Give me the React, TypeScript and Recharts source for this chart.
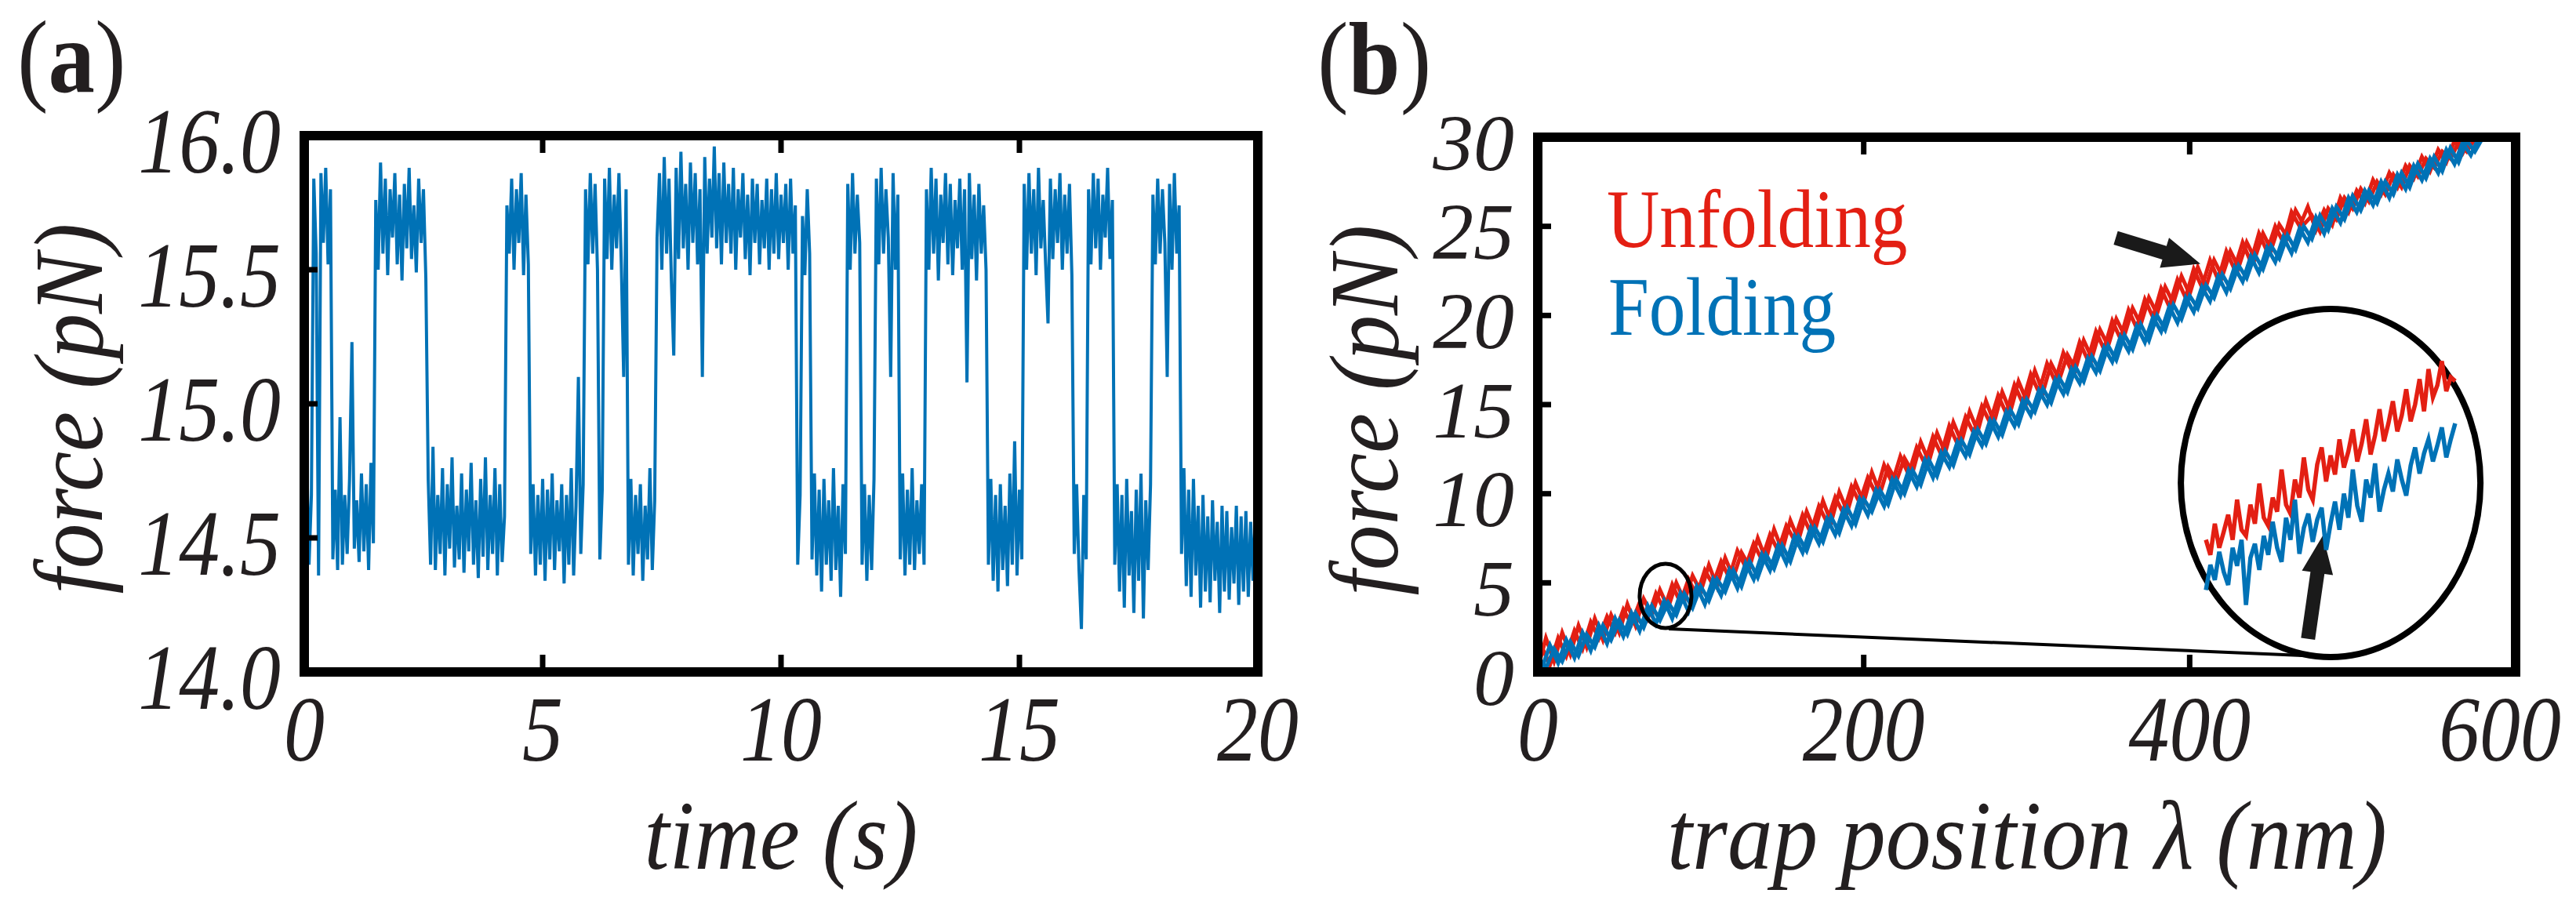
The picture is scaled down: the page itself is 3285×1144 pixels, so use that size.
import React from "react";
import { LineChart, Line, XAxis, YAxis, ReferenceDot, ReferenceLine } from "recharts";

// (a) force trace, sampled every 0.05 s from 0 to 20 s (one line per dwell)
const SAMPLE_INTERVAL_S = 0.05;
const forceTrace = [
  14.44, 14.82, 14.40, 14.66,
  15.84, 15.56,
  14.36,
  15.86, 15.60, 15.88, 15.52, 15.80,
  14.42, 14.68, 14.38, 14.95, 14.40, 14.66, 14.44, 14.72, 15.23, 14.46, 14.64, 14.41, 14.74, 14.45, 14.70, 14.38, 14.78, 14.48,
  15.76, 15.50, 15.90, 15.56, 15.84, 15.48, 15.80, 15.62, 15.86, 15.52, 15.78, 15.46, 15.82, 15.58, 15.88, 15.54, 15.74, 15.49, 15.84, 15.60, 15.80, 15.47,
  14.72, 14.40, 14.84, 14.38, 14.66, 14.44, 14.76, 14.36, 14.70, 14.46, 14.80, 14.39, 14.62, 14.42, 14.74, 14.37, 14.68, 14.45, 14.78, 14.40, 14.64, 14.35, 14.72, 14.43, 14.80, 14.38, 14.66, 14.44, 14.76, 14.36, 14.70, 14.41, 14.58,
  15.74, 15.56, 15.84, 15.50, 15.80, 15.60, 15.86, 15.48, 15.78, 15.52,
  14.44, 14.70, 14.36, 14.66, 14.40, 14.72, 14.34, 14.68, 14.42, 14.74, 14.38, 14.64, 14.45, 14.70, 14.33, 14.66, 14.40, 14.76, 14.36, 14.62, 15.10, 14.44, 14.70,
  15.80, 15.52, 15.86, 15.56, 15.82, 15.50,
  14.42, 14.68,
  15.84, 15.54, 15.88, 15.50, 15.78, 15.58, 15.86, 15.52, 15.10, 15.80,
  14.40, 14.72, 14.36, 14.66, 14.44, 14.70, 14.34, 14.62, 14.42, 14.76, 14.38, 14.64,
  15.62, 15.86, 15.50, 15.92, 15.56, 15.84, 15.46, 15.18, 15.88, 15.54, 15.94, 15.58, 15.82, 15.50, 15.90, 15.60, 15.86, 15.52, 15.80, 15.10,
  15.92, 15.56, 15.84, 15.62, 15.96, 15.58, 15.86, 15.52, 15.90, 15.60, 15.82, 15.56, 15.88, 15.50, 15.80, 15.62, 15.86, 15.54, 15.78, 15.48,
  15.84, 15.60, 15.82, 15.52, 15.76, 15.58, 15.84, 15.50, 15.80, 15.56, 15.86, 15.54, 15.78, 15.60, 15.82, 15.50, 15.84, 15.56, 15.74,
  14.40, 14.66,
  15.70, 15.48, 15.80, 15.56,
  14.42, 14.74, 14.36, 14.68, 14.30, 14.72, 14.40, 14.64, 14.34, 14.76, 14.38, 14.62, 14.28, 14.70, 14.44,
  15.82, 15.50, 15.86, 15.56, 15.78, 15.60,
  14.40, 14.70, 14.34, 14.66, 14.38, 14.72,
  15.84, 15.52, 15.88, 15.56, 15.80, 15.62, 15.10, 15.86, 15.50, 15.78,
  14.42, 14.74, 14.36, 14.68, 14.40, 14.76, 14.38, 14.64, 14.44, 14.70, 14.40,
  15.80, 15.50, 15.88, 15.56, 15.84, 15.46, 15.78, 15.60, 15.86, 15.52, 15.82, 15.48, 15.76, 15.58, 15.84, 15.50, 15.80, 15.08, 15.86, 15.54, 15.78, 15.46, 15.82, 15.56, 15.74, 15.50,
  14.40, 14.72, 14.34, 14.66, 14.30, 14.70, 14.38, 14.62, 14.32, 14.74, 14.40, 14.86, 14.36, 14.68, 14.42,
  15.82, 15.50, 15.86, 15.56, 15.80, 15.48, 15.88, 15.58, 15.76, 15.52, 15.30, 15.84, 15.54, 15.80, 15.60, 15.86, 15.50, 15.78, 15.56, 15.82, 15.48,
  14.44, 14.70, 14.38, 14.16, 14.66, 14.42,
  15.80, 15.52, 15.86, 15.58, 15.84, 15.50, 15.78, 15.62, 15.88, 15.54, 15.76,
  14.40, 14.70, 14.30, 14.66, 14.24, 14.72, 14.36, 14.60, 14.22, 14.68, 14.34, 14.74, 14.20, 14.64, 14.38, 14.70,
  15.78, 15.52, 15.84, 15.56, 15.80, 15.60, 15.10, 15.82, 15.50, 15.86, 15.56, 15.74,
  14.44, 14.76, 14.32, 14.68, 14.28, 14.72, 14.36, 14.62, 14.24, 14.66, 14.30, 14.58, 14.26, 14.64, 14.34, 14.56, 14.22,
  14.62, 14.30, 14.60, 14.27, 14.54, 14.33, 14.62, 14.25, 14.58, 14.30, 14.60, 14.28, 14.56, 14.34, 14.60, 14.17,
];

// (b) two pulling cycles each way; cycle 1 every 5 nm from 0 nm, cycle 2 every 5 nm from 2.5 nm
const TRAP_STEP_NM = 5;
const CYCLE2_OFFSET_NM = 2.5;
const unfoldingForce = [
  0.2, 1.9, 0.6, 2.2, 1.0, 2.6, 1.4, 3.0, 1.8, 3.2, 2.2, 3.8, 2.6, 4.1, 3.2, 4.6, 3.6, 5.0, 4.0, 5.4, 4.5,
  6.0, 4.8, 6.4, 5.3, 6.7, 5.9, 7.5, 6.3, 8.0, 6.8, 8.5, 7.4, 9.0, 7.9, 9.6, 8.4, 10.1, 9.0, 10.6, 9.5,
  11.2, 10.0, 11.5, 10.7, 12.0, 11.2, 12.9, 11.8, 13.4, 12.3, 14.0, 12.9, 14.6, 13.5, 15.2, 14.0, 15.7, 14.6, 16.3, 15.2,
  16.9, 15.7, 17.3, 16.4, 17.8, 17.0, 18.6, 17.6, 19.2, 18.3, 19.8, 18.9, 20.4, 19.5, 21.0, 20.1, 21.6, 20.7, 22.2, 21.2,
  22.7, 21.6, 23.1, 22.2, 23.6, 22.7, 24.1, 23.2, 24.6, 23.7, 25.1, 24.4, 25.9, 25.1, 25.6, 24.7, 26.0, 25.4, 26.6, 26.0,
  27.1, 26.4, 27.5, 26.8, 27.9, 27.2, 28.4, 27.8, 28.8, 28.3, 29.2, 28.8, 29.7, 29.2, 29.9, 30.0,
];
const unfoldingForce2 = [
  1.4, 0.4, 1.9, 0.9, 2.3, 1.3, 2.8, 1.9, 3.1, 2.2, 3.5, 2.7, 3.9, 3.0, 4.4, 3.5, 4.9, 3.9, 5.2, 4.3,
  5.7, 4.9, 6.2, 5.3, 6.8, 5.9, 7.2, 6.3, 7.7, 6.8, 8.2, 7.4, 8.8, 7.8, 9.3, 8.4, 9.8, 8.9, 10.4, 9.5,
  10.9, 10.0, 11.6, 10.6, 12.1, 11.1, 12.6, 11.7, 13.2, 12.2, 13.8, 12.8, 14.3, 13.4, 14.9, 14.0, 15.5, 14.5, 16.1, 15.1,
  16.7, 15.7, 17.3, 16.3, 17.9, 16.9, 18.5, 17.5, 19.1, 18.1, 19.7, 18.7, 20.3, 19.3, 20.9, 19.9, 21.5, 20.5, 22.0, 21.0,
  22.6, 21.6, 23.1, 22.0, 23.6, 22.6, 24.1, 23.0, 24.6, 23.6, 25.0, 24.1, 25.8, 25.0, 26.1, 24.8, 25.9, 25.1, 26.6, 25.8,
  27.0, 26.3, 27.6, 26.8, 28.0, 27.2, 28.4, 27.7, 28.9, 28.1, 29.3, 28.6, 29.8, 29.1, 30.0,
];
const foldingForce = [
  0.9, 0.2, 1.3, 0.6, 1.7, 0.9, 2.1, 1.4, 2.6, 1.8, 2.9, 2.1, 3.3, 2.5, 3.7, 2.9, 3.9, 3.2, 4.4, 3.6, 4.8,
  4.0, 5.2, 4.5, 5.7, 4.8, 6.2, 5.3, 6.6, 5.8, 7.1, 6.2, 7.6, 6.8, 8.1, 7.3, 8.7, 7.8, 9.2, 8.3, 9.7,
  9.0, 10.2, 9.4, 10.8, 10.0, 11.3, 10.5, 11.9, 11.0, 12.4, 11.6, 13.0, 12.2, 13.6, 12.8, 14.1, 13.3, 14.7, 13.9, 15.3,
  14.6, 15.9, 15.1, 16.5, 15.7, 17.1, 16.3, 17.7, 16.9, 18.3, 17.5, 18.9, 18.1, 19.5, 18.6, 20.0, 19.2, 20.6, 19.8, 21.1,
  20.4, 21.7, 21.0, 22.3, 21.5, 22.8, 22.1, 23.4, 22.6, 23.9, 23.2, 24.5, 23.7, 25.0, 24.3, 25.6, 24.8, 26.1, 25.4, 26.7,
  25.9, 27.0, 26.3, 27.5, 26.8, 28.0, 27.2, 28.5, 27.7, 28.9, 28.1, 29.4, 28.6, 29.8, 29.2, 30.0,
];
const foldingForce2 = [
  0.2, 1.5, 0.5, 1.8, 0.8, 2.2, 1.2, 2.6, 1.6, 3.0, 2.0, 3.3, 2.3, 3.7, 2.7, 4.0, 3.0, 4.4, 3.4, 4.8,
  3.8, 5.2, 4.3, 5.7, 4.7, 6.1, 5.2, 6.6, 5.7, 7.1, 6.1, 7.6, 6.7, 8.1, 7.2, 8.6, 7.7, 9.1, 8.2, 9.7,
  8.8, 10.2, 9.3, 10.8, 9.9, 11.3, 10.4, 11.9, 10.9, 12.3, 11.5, 12.9, 12.1, 13.5, 12.7, 14.1, 13.2, 14.6, 13.8, 15.2,
  14.4, 15.8, 15.0, 16.4, 15.6, 17.0, 16.2, 17.6, 16.8, 18.2, 17.4, 18.8, 18.0, 19.4, 18.5, 19.9, 19.1, 20.5, 19.6, 21.0,
  20.2, 21.6, 20.8, 22.2, 21.3, 22.7, 21.9, 23.3, 22.4, 23.8, 23.0, 24.4, 23.5, 24.9, 24.1, 25.5, 24.6, 26.0, 25.2, 26.6,
  25.8, 27.0, 26.2, 27.5, 26.6, 27.9, 27.1, 28.4, 27.6, 28.8, 28.0, 29.3, 28.5, 29.7, 29.0, 30.0,
];

// magnified window around ~78 nm, every 0.5 nm from 64 to 92 nm
const INSET_START_NM = 64;
const INSET_STEP_NM = 0.5;
const insetUnfolding = [
  3.70, 3.55, 3.86, 3.62, 3.78, 3.95, 3.70, 4.10, 3.80, 3.74, 4.05, 3.86, 4.26, 3.92, 3.84, 4.12, 3.98, 4.40, 4.05, 3.96,
  4.30, 4.12, 4.52, 4.20, 4.10, 4.45, 4.62, 4.28, 4.54, 4.35, 4.70, 4.42, 4.58, 4.80, 4.48, 4.66, 4.90, 4.55, 4.74, 5.00,
  4.68, 4.86, 5.08, 4.78, 4.94, 5.20, 4.88, 5.05, 5.30, 4.98, 5.40, 5.12, 5.24, 5.48, 5.18, 5.32, 5.28,
];
const insetFolding = [
  3.20, 3.45, 3.30, 3.58, 3.38, 3.25, 3.62, 3.44, 3.70, 3.05, 3.52, 3.66, 3.40, 3.74, 3.55, 3.88, 3.62, 3.48, 3.92, 3.70,
  4.10, 3.56, 3.82, 3.96, 3.68, 3.90, 4.02, 3.60, 3.86, 4.08, 3.80, 4.16, 3.92, 4.40, 4.04, 3.88, 4.30, 4.12, 4.46, 3.98,
  4.20, 4.36, 4.18, 4.50, 4.30, 4.14, 4.44, 4.62, 4.36, 4.56, 4.70, 4.48, 4.64, 4.82, 4.52, 4.70, 4.86,
];

const timeTicks = [0, 5, 10, 15, 20];
const forceTicksA = [14, 14.5, 15, 15.5, 16];
const trapTicks = [0, 200, 400, 600];
const forceTicksB = [0, 5, 10, 15, 20, 25, 30];

const INK = "#231f20";
const RED = "#e31f13";
const BLUE = "#0072b6";
const FONT = "'Liberation Serif', 'Times New Roman', serif";

const traceData = forceTrace.map((f, i) => ({ t: i * SAMPLE_INTERVAL_S, f }));
const pullData = unfoldingForce.map((u, i) => ({ x: i * TRAP_STEP_NM, unfold: u, fold: foldingForce[i] }));
const unfold2Data = unfoldingForce2.map((u, i) => ({ x: CYCLE2_OFFSET_NM + i * TRAP_STEP_NM, unfold: u }));
const fold2Data = foldingForce2.map((f, i) => ({ x: CYCLE2_OFFSET_NM + i * TRAP_STEP_NM, fold: f }));
const insetData = insetUnfolding.map((u, i) => ({ x: INSET_START_NM + i * INSET_STEP_NM, unfold: u, fold: insetFolding[i] }));

const frameLine = { stroke: "#000", strokeWidth: 12, strokeLinecap: "square" as const };

// inward tick marks (and labels on bottom/left)
function makeTick(side: string, len: number, fmt?: (v: number) => string, shift?: (v: number) => number, size = 118) {
  return (p: any) => {
    const { x, y } = p;
    const v = p.payload.value;
    let x2 = x, y2 = y;
    if (side === "bottom") y2 = y - len;
    if (side === "top") y2 = y + len;
    if (side === "left") x2 = x + len;
    if (side === "right") x2 = x - len;
    let label = null;
    if (fmt) {
      const sx = (0.88 * 118) / size;
      const tr = side === "bottom"
        ? `translate(${x + (shift ? shift(v) : 0)},${y + 113}) scale(${sx},1)`
        : `translate(${x - 30},${y + 8 + size * 0.33}) scale(${sx},1)`;
      label = (
        <text transform={tr} textAnchor={side === "bottom" ? "middle" : "end"} fontFamily={FONT}
          fontStyle="italic" fontSize={size} fill={INK}>{fmt(v)}</text>
      );
    }
    return (
      <g>
        <line x1={x} y1={y} x2={x2} y2={y2} stroke="#000" strokeWidth={7} />
        {label}
      </g>
    );
  };
}

const arrowShape = (ux: number, uy: number, len: number) => (p: any) => {
  const { cx, cy } = p;
  const h = 48, w = 20, s = 9;
  const nx = -uy, ny = ux;
  const bx = cx - ux * h, by = cy - uy * h;
  const tx = cx - ux * len, ty = cy - uy * len;
  const pts = [
    [cx, cy], [bx + nx * w, by + ny * w], [bx + nx * s, by + ny * s], [tx + nx * s, ty + ny * s],
    [tx - nx * s, ty - ny * s], [bx - nx * s, by - ny * s], [bx - nx * w, by - ny * w],
  ].map((q) => q.join(",")).join(" ");
  return <polygon points={pts} fill="#1a1a1a" />;
};

const ellipseShape = (rx: number, ry: number, sw: number) => (p: any) => (
  <ellipse cx={p.cx} cy={p.cy} rx={rx} ry={ry} fill="none" stroke="#000" strokeWidth={sw} />
);

const axisCommon = { interval: 0 as const, tickSize: 0, tickMargin: 0, tickLine: false, axisLine: frameLine };

function TraceChart() {
  return (
    <LineChart width={1700} height={1144} data={traceData} margin={{ top: 172, left: 387, right: 95, bottom: 286 }}>
      <XAxis dataKey="t" type="number" domain={[0, 20]} ticks={timeTicks} height={1} {...axisCommon}
        tick={makeTick("bottom", 22, (v) => String(v))} />
      <XAxis xAxisId="top" orientation="top" dataKey="t" type="number" domain={[0, 20]} ticks={timeTicks} height={1}
        {...axisCommon} tick={makeTick("top", 22)} />
      <YAxis type="number" domain={[14, 16]} ticks={forceTicksA} width={1} {...axisCommon}
        tick={makeTick("left", 17, (v) => v.toFixed(1))} />
      <YAxis yAxisId="right" orientation="right" type="number" domain={[14, 16]} ticks={forceTicksA} width={1}
        {...axisCommon} tick={makeTick("right", 17)} />
      <Line type="linear" dataKey="f" stroke={BLUE} strokeWidth={4} dot={false} isAnimationActive={false} />
    </LineChart>
  );
}

function PullChart() {
  return (
    <LineChart width={1625} height={1144} data={pullData} margin={{ top: 174, left: 300, right: 76, bottom: 286 }}>
      <XAxis dataKey="x" type="number" domain={[0, 600]} ticks={trapTicks} height={1} {...axisCommon}
        tick={makeTick("bottom", 22, (v) => String(v), (v) => (v === 600 ? -20 : 0))} />
      <XAxis xAxisId="top" orientation="top" dataKey="x" type="number" domain={[0, 600]} ticks={trapTicks} height={1}
        {...axisCommon} tick={makeTick("top", 22)} />
      <YAxis type="number" domain={[0, 30]} ticks={forceTicksB} width={1} {...axisCommon}
        tick={makeTick("left", 17, (v) => String(v), undefined, 102)} />
      <YAxis yAxisId="right" orientation="right" type="number" domain={[0, 30]} ticks={forceTicksB} width={1}
        {...axisCommon} tick={makeTick("right", 17)} />
      <Line type="linear" dataKey="unfold" stroke={RED} strokeWidth={5} dot={false} isAnimationActive={false} />
      <Line type="linear" data={unfold2Data} dataKey="unfold" stroke={RED} strokeWidth={5} dot={false} isAnimationActive={false} />
      <Line type="linear" dataKey="fold" stroke={BLUE} strokeWidth={5} dot={false} isAnimationActive={false} />
      <Line type="linear" data={fold2Data} dataKey="fold" stroke={BLUE} strokeWidth={5} dot={false} isAnimationActive={false} />
      <ReferenceLine segment={[{ x: 80.4, y: 2.42 }, { x: 480.8, y: 0.88 }]} stroke="#000" strokeWidth={4} ifOverflow="visible" />
      <ReferenceDot x={78.4} y={4.27} r={1} ifOverflow="visible" shape={ellipseShape(33, 41, 5)} />
      <ReferenceDot x={486.5} y={10.6} r={1} ifOverflow="visible" shape={ellipseShape(191, 222, 8)} />
      <ReferenceDot x={406.6} y={22.9} r={1} ifOverflow="visible" shape={arrowShape(0.956, 0.292, 113)} />
      <ReferenceDot x={481.7} y={7.65} r={1} ifOverflow="visible" shape={arrowShape(0.142, -0.99, 133)} />
    </LineChart>
  );
}

function InsetChart() {
  return (
    <LineChart width={386} height={448} data={insetData} margin={{ top: 0, left: 0, right: 0, bottom: 0 }}>
      <XAxis dataKey="x" type="number" domain={[61, 95]} hide />
      <YAxis type="number" domain={[2.5, 6]} hide />
      <Line type="linear" dataKey="unfold" stroke={RED} strokeWidth={5.5} dot={false} isAnimationActive={false} />
      <Line type="linear" dataKey="fold" stroke={BLUE} strokeWidth={5.5} dot={false} isAnimationActive={false} />
    </LineChart>
  );
}

export default function App() {
  const title = { fontFamily: FONT, fontStyle: "italic" as const, fontSize: 124, fill: INK };
  return (
    <div style={{ position: "relative", width: 3285, height: 1144, background: "#fff", overflow: "hidden" }}>
      <style>{"body{margin:0}"}</style>
      <div style={{ position: "absolute", left: 0, top: 0 }}><TraceChart /></div>
      <div style={{ position: "absolute", left: 1660, top: 0 }}><PullChart /></div>
      <div style={{ position: "absolute", left: 2779, top: 394 }}><InsetChart /></div>
      <svg width={3285} height={1144} style={{ position: "absolute", left: 0, top: 0, pointerEvents: "none" }}>
        <text transform="translate(22,117) scale(0.9,1)" fontFamily={FONT} fontSize={132} fill={INK}>
          (<tspan fontWeight="bold">a</tspan>)
        </text>
        <text transform="translate(1680,119) scale(0.9,1)" fontFamily={FONT} fontSize={132} fill={INK}>
          (<tspan fontWeight="bold">b</tspan>)
        </text>
        <text transform="translate(130,521) rotate(-90) scale(0.93,1)" textAnchor="middle" {...title}>force (pN)</text>
        <text transform="translate(996,1108) scale(0.93,1)" textAnchor="middle" {...title}>time (s)</text>
        <text transform="translate(1782,523) rotate(-90) scale(0.93,1)" textAnchor="middle" {...title}>force (pN)</text>
        <text transform="translate(2585,1108) scale(0.93,1)" textAnchor="middle" {...title}>trap position λ (nm)</text>
        <text transform="translate(2049,315) scale(0.88,1)" fontFamily={FONT} fontSize={106} fill={RED}>Unfolding</text>
        <text transform="translate(2051,427) scale(0.88,1)" fontFamily={FONT} fontSize={106} fill={BLUE}>Folding</text>
      </svg>
    </div>
  );
}
